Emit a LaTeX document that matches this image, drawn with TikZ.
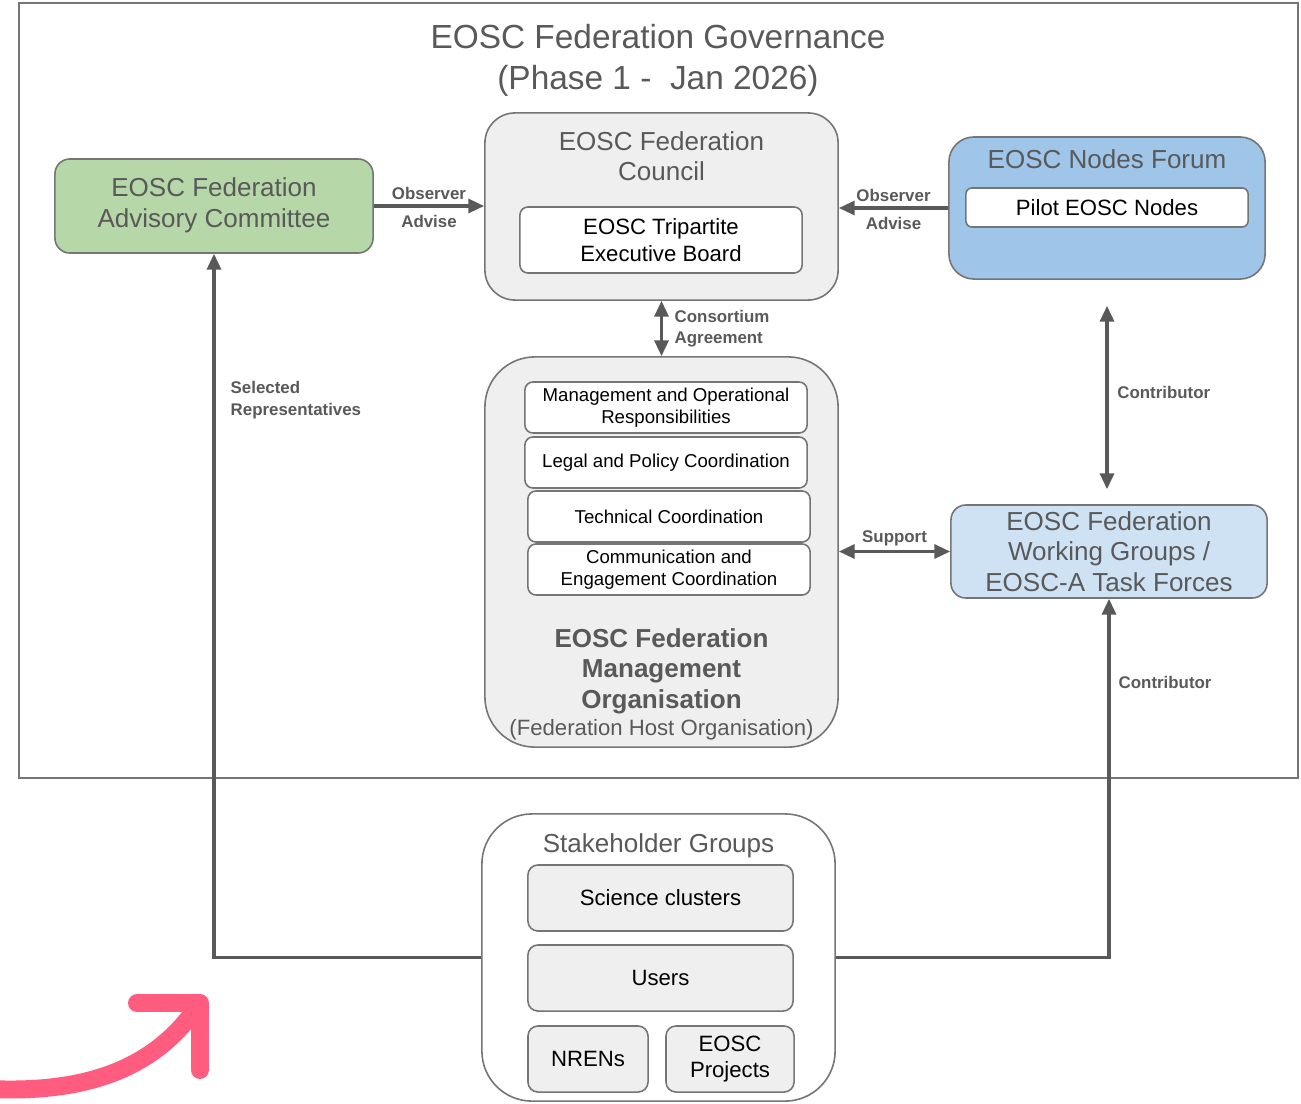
\documentclass[tikz,border=0pt]{standalone}
\usepackage{fontspec}
\setmainfont{Liberation Sans}
\usepackage{tikz}
\usetikzlibrary{arrows.meta}
\usetikzlibrary{positioning}

\definecolor{lineGray}{HTML}{595959}
\definecolor{boxLine}{HTML}{757575}
\definecolor{boxGray}{HTML}{EFEFEF}
\definecolor{advGreen}{HTML}{B6D7A8}
\definecolor{forumBlue}{HTML}{9FC5E8}
\definecolor{wgBlue}{HTML}{CFE2F3}
\definecolor{pinkMark}{HTML}{FF5C80}

\newcommand{\titlefont}{\fontsize{9.5pt}{11.7pt}\selectfont}
\newcommand{\boxfont}{\fontsize{7.4pt}{8.7pt}\selectfont}
\newcommand{\innerfont}{\fontsize{6.3pt}{7.5pt}\selectfont}
\newcommand{\taskfont}{\fontsize{5.3pt}{6.3pt}\selectfont}
\newcommand{\lblfont}{\fontsize{4.8pt}{6.1pt}\selectfont\bfseries}

\begin{document}
\begin{tikzpicture}[x=0.01cm, y=-0.01cm,
    every node/.style={align=center},
    box/.style={draw=boxLine, line width=0.45pt, inner sep=0pt},
    big/.style={box, fill=boxGray, rounded corners=0.3cm},
    inner/.style={box, fill=white, rounded corners=0.08cm, text=black, font=\innerfont},
    task/.style={box, fill=white, rounded corners=0.08cm, text=black, font=\taskfont, minimum width=2.82cm, minimum height=0.51cm},
    group/.style={box, fill=boxGray, rounded corners=0.1cm, text=black, font=\innerfont, minimum height=0.66cm},
    head/.style={text=lineGray, font=\boxfont},
    link/.style={draw=lineGray, line width=0.9pt, -{Triangle[length=4.5pt,width=4pt]}},
    both/.style={link, {Triangle[length=4.5pt,width=4pt]}-{Triangle[length=4.5pt,width=4pt]}},
    lbl/.style={text=lineGray, font=\lblfont, inner sep=2.2pt},
    ]
    \useasboundingbox (0,0) rectangle (1301,1103);

    % Outer frame and title
    \draw[draw=boxLine, line width=0.8pt] (19,3) rectangle (1298,778);
    \node[text=lineGray, font=\titlefont] (title) at (658,60.5) {EOSC Federation Governance\\(Phase 1 -\ \ Jan 2026)};

    % Advisory committee
    \node[box, fill=advGreen, rounded corners=0.15cm, minimum width=3.18cm, minimum height=0.94cm, text=lineGray, font=\boxfont] (adv) at (214,206) {\raisebox{-2.2pt}{\begin{tabular}{@{}c@{}}EOSC Federation\\Advisory Committee\end{tabular}}};

    % Council
    \node[big, minimum width=3.53cm, minimum height=1.87cm] (council) at (661.5,206.5) {};
    \node[head] (counciltitle) at (661.5,156) {EOSC Federation\\Council};
    \node[inner, minimum width=2.82cm, minimum height=0.66cm] (board) at (661,240) {EOSC Tripartite\\Executive Board};

    % Nodes forum
    \node[box, fill=forumBlue, rounded corners=0.25cm, minimum width=3.16cm, minimum height=1.42cm] (forum) at (1107,208) {};
    \node[head] (forumtitle) at (1107,159) {EOSC Nodes Forum};
    \node[inner, minimum width=2.82cm, minimum height=0.39cm, rounded corners=0.06cm] (pilot) at (1107,207.5) {Pilot EOSC Nodes};

    % Management organisation
    \node[big, rounded corners=0.5cm, minimum width=3.53cm, minimum height=3.9cm] (mgmt) at (661.5,552) {};
    \node[task] (ops) at (666,407.5) {Management and Operational\\Responsibilities};
    \node[task] (legal) at (666,462.5) {Legal and Policy Coordination};
    \node[task] (tech) at (669,516.5) {Technical Coordination};
    \node[task] (comm) at (669,569.5) {Communication and\\Engagement Coordination};
    \node[text=lineGray, font=\boxfont\bfseries] (mgmttitle) at (661.5,671) {EOSC Federation\\Management\\Organisation};
    \node[text=lineGray, font=\innerfont] (host) at (661.5,730) {(Federation Host Organisation)};

    % Working groups
    \node[box, fill=wgBlue, rounded corners=0.15cm, minimum width=3.16cm, minimum height=0.93cm, text=lineGray, font=\boxfont] (wg) at (1109,551.5) {EOSC Federation\\Working Groups /\\EOSC-A Task Forces};

    % Stakeholder groups
    \node[box, fill=white, rounded corners=0.5cm, minimum width=3.53cm, minimum height=2.87cm] (stake) at (658.5,957.5) {};
    \node[head] (staketitle) at (658.5,846) {Stakeholder Groups};
    \node[group, minimum width=2.65cm] (science) at (660.5,898) {Science clusters};
    \node[group, minimum width=2.65cm] (users) at (660.5,978) {Users};
    \node[group, minimum width=1.2cm] (nrens) at (588,1059) {NRENs};
    \node[group, minimum width=1.28cm] (projects) at (730,1059) {EOSC\\Projects};

    % Connectors
    \draw[link] (adv.east) -- (adv.east -| council.west) node[lbl, midway, above, inner sep=1.4pt] (advobs) {Observer} node[lbl, midway, below] (advadv) {Advise};
    \draw[link] (forum.west) -- (forum.west -| council.east) node[lbl, midway, above, inner sep=1.4pt] (forumobs) {Observer} node[lbl, midway, below] (forumadv) {Advise};
    \draw[both] (council.south) -- (mgmt.north) node[lbl, midway, right, align=left, inner sep=3.3pt] (consortium) {Consortium\\Agreement};
    \draw[both, shorten <=0.26cm, shorten >=0.15cm] (forum.south) -- (forum.south |- wg.north) node[lbl, midway, right, inner sep=2.5pt] (contribtop) {Contributor};
    \draw[both] (mgmt.east |- wg.west) -- (wg.west) node[lbl, midway, above, inner sep=1pt] (support) {Support};
    \draw[link] (stake.west) -| (adv.south) node[lbl, pos=0.896, right, align=left, inner sep=4.3pt] (selected) {Selected\\Representatives};
    \draw[link] (stake.east) -| (wg.south) node[lbl, pos=0.883, right, inner sep=2.3pt] (contribbottom) {Contributor};

    % Pink highlight arrow
    \draw[pinkMark, line width=5.1pt, line cap=round] (-10,1089) .. controls (100,1094) and (160,1060) .. (197,1007);
    \draw[pinkMark, line width=5.1pt, line cap=round, line join=round] (137,1003) -- (200,1003) -- (200,1070);
\end{tikzpicture}
\end{document}
